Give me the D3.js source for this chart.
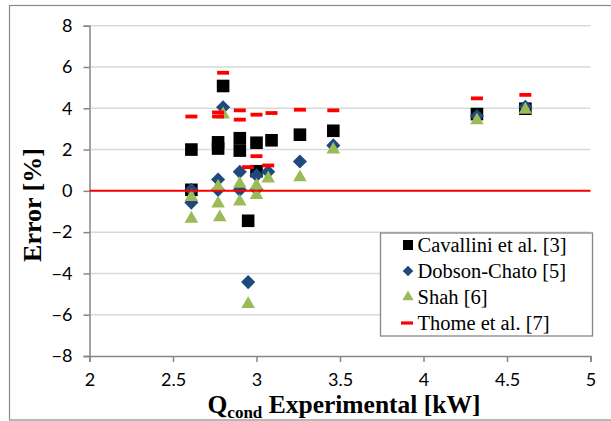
<!DOCTYPE html>
<html>
<head>
<meta charset="utf-8">
<script src="https://cdn.jsdelivr.net/npm/d3@7"></script>
<style>
  html, body { margin: 0; padding: 0; background: #fff; }
  svg { display: block; }
</style>
</head>
<body>
<svg id="chart" width="611" height="421"></svg>
<script>
// data: [Q experimental (kW), error (%)]
const cavallini = [
  [2.61, 2.0], [2.61, 0.05], [2.77, 2.35], [2.77, 2.05], [2.80, 5.08],
  [2.90, 2.55], [2.90, 1.95], [2.95, -1.45], [3.00, 2.33], [3.00, 0.95],
  [3.09, 2.45], [3.26, 2.72], [3.46, 2.91], [4.32, 3.72], [4.61, 3.98]
];
const dobsonChato = [
  [2.61, 0.05], [2.61, -0.57], [2.77, 0.55], [2.77, 0.05], [2.80, 4.05],
  [2.90, 0.92], [2.90, 0.05], [2.95, -4.42], [3.00, 0.75], [3.00, 0.08],
  [3.07, 0.92], [3.26, 1.42], [3.46, 2.2], [4.32, 3.62], [4.61, 4.07]
];
const shah = [
  [2.61, -0.3], [2.61, -1.35], [2.77, 0.2], [2.77, -0.62], [2.78, -1.28],
  [2.80, 3.7], [2.90, 0.34], [2.90, -0.52], [2.95, -5.48], [3.00, 0.25],
  [3.00, -0.2], [3.07, 0.6], [3.26, 0.66], [3.46, 2.0], [4.32, 3.42], [4.61, 3.93]
];
const thome = [
  [2.61, 3.6], [2.77, 3.8], [2.77, 3.6], [2.80, 5.72], [2.90, 3.9],
  [2.90, 3.45], [2.95, 1.15], [3.00, 3.69], [3.00, 1.68], [3.07, 1.23],
  [3.09, 3.77], [3.26, 3.93], [3.46, 3.9], [4.32, 4.48], [4.61, 4.65]
];
const zeroLine = [[2, 0], [5, 0]];

const seriesNames = ["Cavallini et al. [3]", "Dobson-Chato [5]", "Shah [6]", "Thome et al. [7]"];
const xTicks = [2, 2.5, 3, 3.5, 4, 4.5, 5];
const yTicks = [-8, -6, -4, -2, 0, 2, 4, 6, 8];

const svg = d3.select("#chart");
const width = 611, height = 421;
const serif = "'Liberation Serif', 'Times New Roman', serif";

// outer frame of the chart area
svg.append("rect")
  .attr("x", 9.5).attr("y", 5.5)
  .attr("width", width).attr("height", 414.5)
  .attr("fill", "#fff")
  .attr("stroke", "#898989")
  .attr("stroke-width", 1.2);

const x = d3.scaleLinear().domain([2, 5]).range([89.5, 590.5]);
const y = d3.scaleLinear().domain([-8, 8]).range([356, 25.7]);

// horizontal gridlines
svg.append("g")
  .selectAll("line")
  .data(yTicks.filter(d => d !== -8))
  .join("line")
  .attr("x1", x(2)).attr("x2", x(5))
  .attr("y1", d => y(d)).attr("y2", d => y(d))
  .attr("stroke", "#d9d9d9")
  .attr("stroke-width", 1.5);

// axes
const yAxis = svg.append("g")
  .attr("transform", `translate(${x(2)},0)`)
  .call(d3.axisLeft(y).tickValues(yTicks).tickSize(6).tickPadding(11).tickFormat(d3.format("d")));
const xAxis = svg.append("g")
  .attr("transform", `translate(0,${y(-8)})`)
  .call(d3.axisBottom(x).tickValues(xTicks).tickSize(6).tickPadding(11).tickFormat(d => d));

[yAxis, xAxis].forEach(ax => {
  ax.select(".domain").attr("stroke", "#868686").attr("stroke-width", 1.5);
  ax.selectAll(".tick line").attr("stroke", "#868686").attr("stroke-width", 1.5);
  ax.selectAll(".tick text")
    .attr("fill", "#000")
    .style("font-family", "Lato, 'Open Sans', sans-serif")
    .style("font-size", "18px");
});

// axis titles
const xTitle = svg.append("text")
  .attr("x", 344).attr("y", 413)
  .attr("text-anchor", "middle")
  .style("font-family", serif)
  .style("font-weight", "bold")
  .style("font-size", "25.5px")
  .attr("fill", "#000");
xTitle.append("tspan").text("Q");
xTitle.append("tspan").style("font-size", "17px").attr("dy", 5).text("cond");
xTitle.append("tspan").attr("dy", -5).text(" Experimental [kW]");

svg.append("text")
  .attr("transform", "translate(41,205) rotate(-90)")
  .attr("text-anchor", "middle")
  .style("font-family", serif)
  .style("font-weight", "bold")
  .style("font-size", "26px")
  .attr("fill", "#000")
  .text("Error [%]");

// marker drawers
const markers = [
  g => g.append("rect").attr("x", -6.3).attr("y", -6.3).attr("width", 12.6).attr("height", 12.6).attr("fill", "#000"),
  g => g.append("rect").attr("x", -5).attr("y", -5).attr("width", 10).attr("height", 10)
        .attr("transform", "rotate(45)").attr("fill", "#1f497d"),
  g => g.append("path").attr("d", d3.symbol(d3.symbolTriangle, 80)()).attr("fill", "#9bbb59"),
  g => g.append("rect").attr("x", -6).attr("y", -1.9).attr("width", 12).attr("height", 3.8).attr("fill", "#ff0000")
];
const legendMarkers = [
  g => g.append("rect").attr("x", -5).attr("y", -5).attr("width", 10).attr("height", 10).attr("fill", "#000"),
  g => g.append("rect").attr("x", -3.7).attr("y", -3.7).attr("width", 7.4).attr("height", 7.4)
        .attr("transform", "rotate(45)").attr("fill", "#1f497d"),
  g => g.append("path").attr("d", d3.symbol(d3.symbolTriangle, 55)()).attr("fill", "#9bbb59"),
  g => g.append("rect").attr("x", -6).attr("y", -1.6).attr("width", 12).attr("height", 3.2).attr("fill", "#ff0000")
];

[cavallini, dobsonChato, shah, thome].forEach((data, i) => {
  svg.append("g")
    .selectAll("g")
    .data(data)
    .join("g")
    .attr("transform", d => `translate(${x(d[0])},${y(d[1])})`)
    .each(function () { markers[i](d3.select(this)); });
});

// zero reference line
svg.append("path")
  .datum(zeroLine)
  .attr("fill", "none")
  .attr("stroke", "#ff0000")
  .attr("stroke-width", 2)
  .attr("d", d3.line().x(d => x(d[0])).y(d => y(d[1])));

// legend
const legend = svg.append("g").attr("transform", "translate(380.5,233)");
legend.append("rect")
  .attr("width", 212).attr("height", 103)
  .attr("fill", "#fff")
  .attr("stroke", "#868686")
  .attr("stroke-width", 1.3);

seriesNames.forEach((name, i) => {
  const row = legend.append("g").attr("transform", `translate(0,${12 + i * 26})`);
  const m = row.append("g").attr("transform", `translate(${i === 3 ? 26.5 : 27.5},0)`);
  legendMarkers[i](m);
  row.append("text")
    .attr("x", 37).attr("y", 6.8)
    .style("font-family", serif)
    .style("font-size", "20.5px")
    .attr("fill", "#000")
    .text(name);
});
</script>
</body>
</html>
